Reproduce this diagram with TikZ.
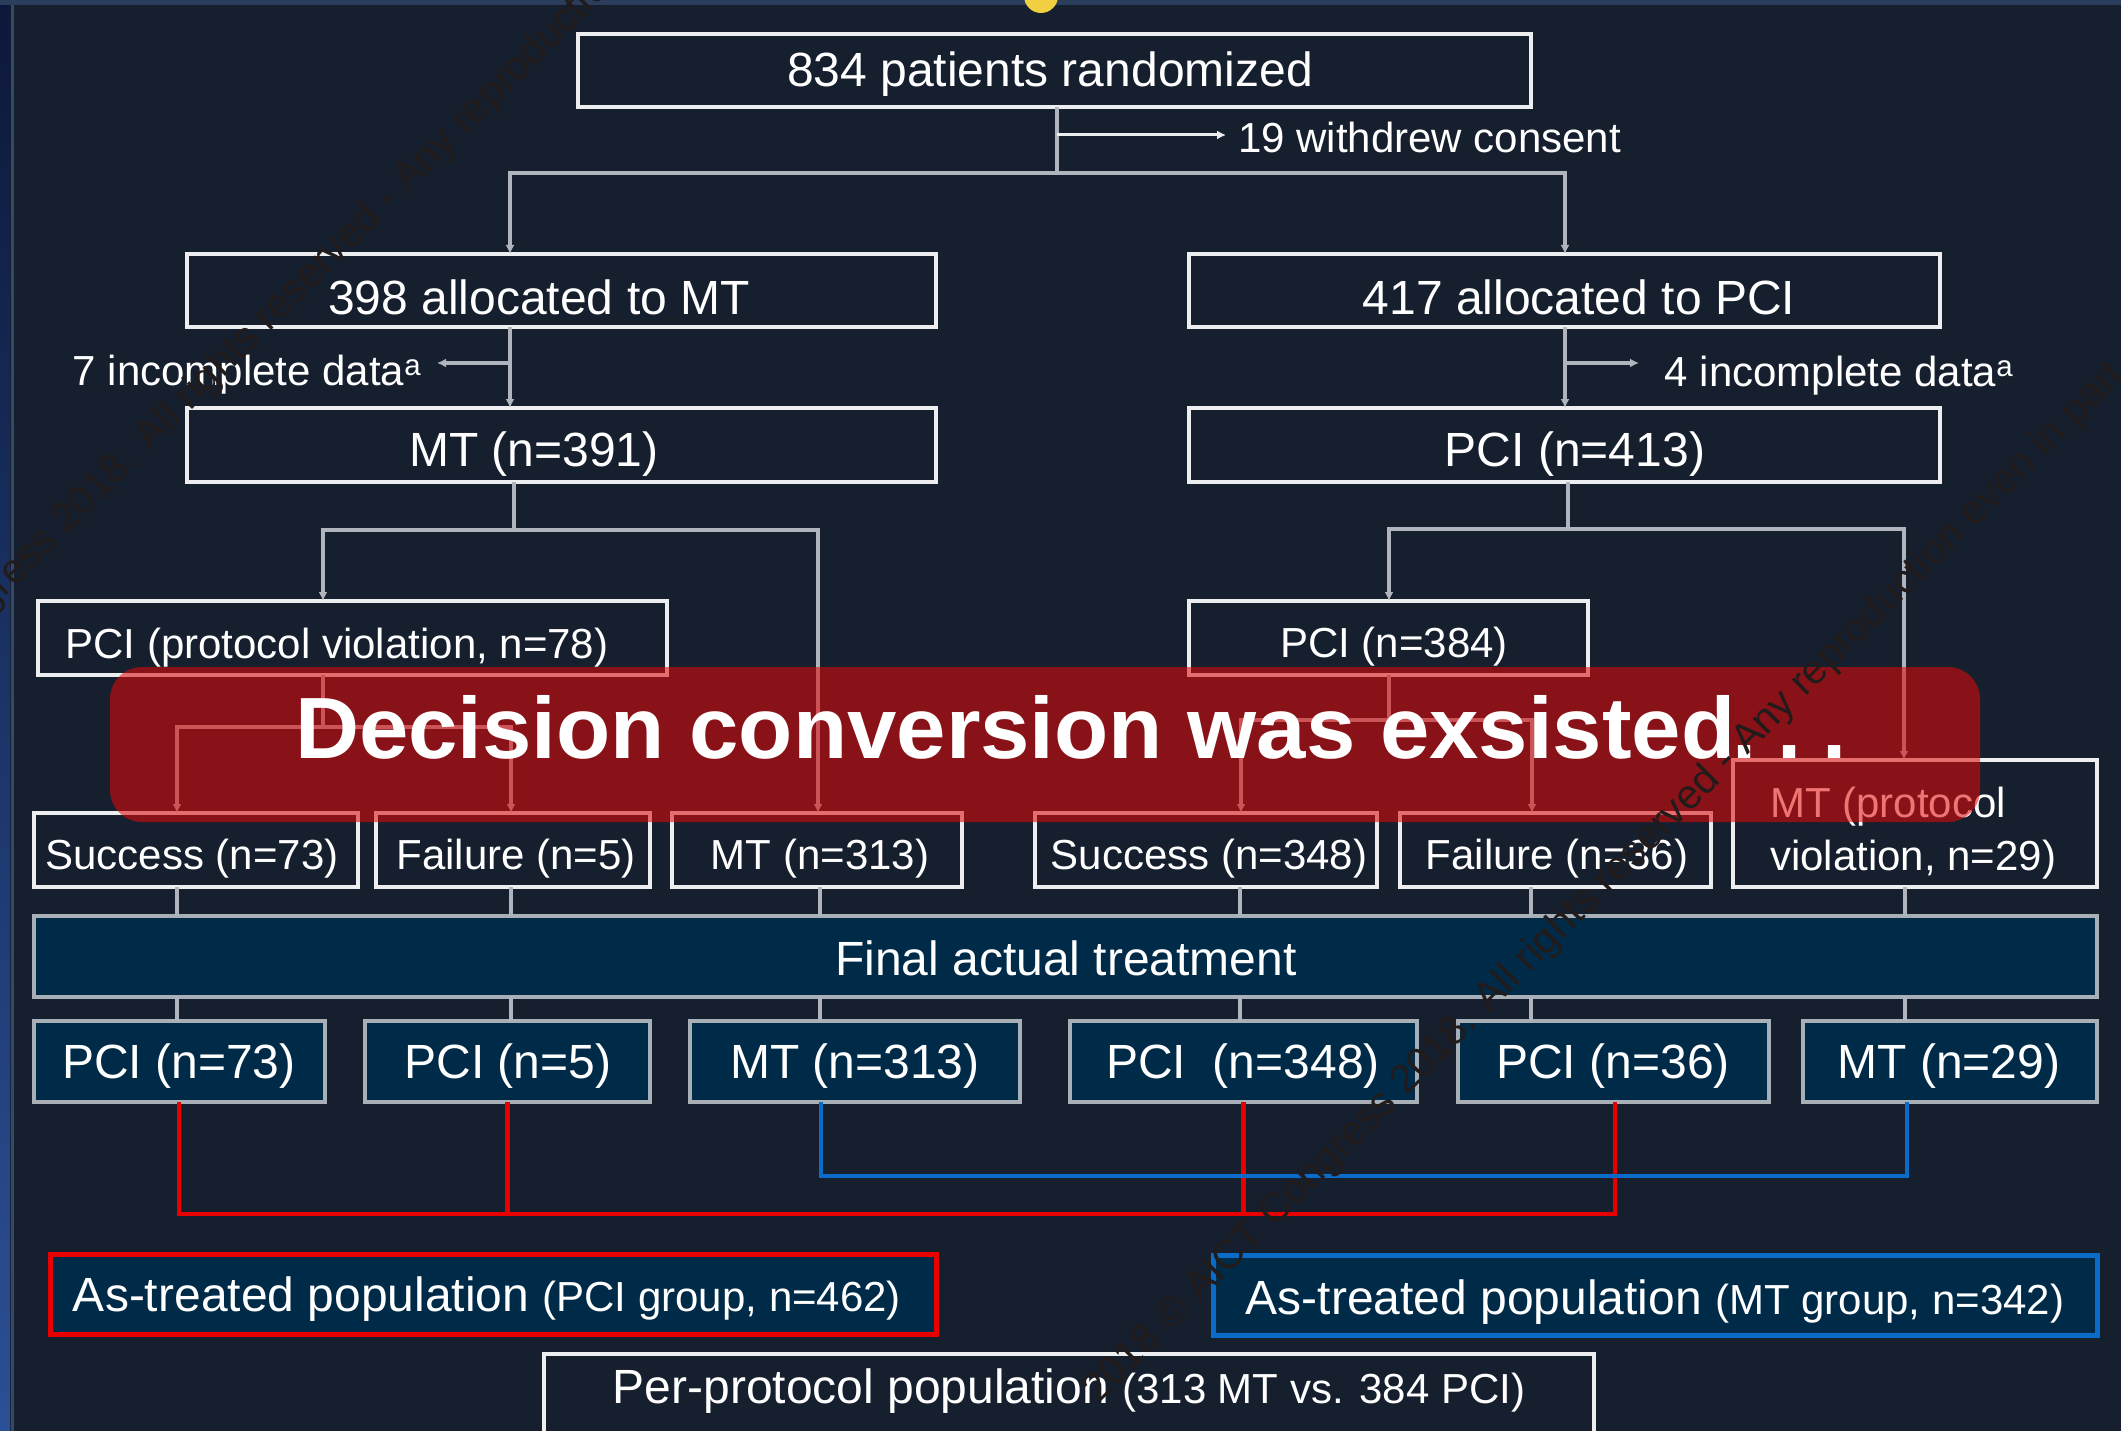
\documentclass[tikz,border=0pt]{standalone}
\usepackage{graphicx}
\usepackage{fontspec}
\setmainfont{Liberation Sans}
\usetikzlibrary{arrows.meta,calc}
\definecolor{bgc}{RGB}{22,31,45}
\definecolor{fillb}{RGB}{0,43,72}
\definecolor{boxw}{RGB}{236,238,240}
\definecolor{boxg}{RGB}{168,175,183}
\definecolor{conng}{RGB}{176,181,189}
\definecolor{redl}{RGB}{232,0,0}
\definecolor{bluel}{RGB}{10,108,200}
\definecolor{ovl}{RGB}{227,9,8}
\definecolor{wmc}{RGB}{34,27,27}
\definecolor{topband}{RGB}{42,62,92}
\definecolor{stripline}{RGB}{52,72,104}
\definecolor{sunc}{RGB}{240,208,64}
\newcommand{\szL}{\fontsize{48pt}{56pt}\selectfont}
\newcommand{\szS}{\fontsize{42pt}{50pt}\selectfont}
\newcommand{\szT}{\fontsize{87pt}{96pt}\selectfont\bfseries}
\newcommand{\szW}{\fontsize{41pt}{46pt}\selectfont}
\begin{document}
\begin{tikzpicture}[x=1pt,y=-1pt,
  wbox/.style={draw=boxw, line width=4.5pt, inner sep=0pt, outer sep=0pt, rectangle},
  gbox/.style={draw=boxg, line width=4pt, fill=fillb, inner sep=0pt, outer sep=0pt, rectangle},
  conn/.style={draw=conng, line width=3.5pt},
  connw/.style={draw=boxw, line width=3pt},
  arr/.style={-{Latex[length=9pt,width=9pt]}},
  tl/.style={text=white, inner sep=0pt, anchor=base, font=\szL},
  ts/.style={text=white, inner sep=0pt, anchor=base, font=\szS},
  redln/.style={draw=redl, line width=4.5pt, line join=miter},
  blueln/.style={draw=bluel, line width=4pt, line join=miter},
  wmk/.style={text=wmc, inner sep=0pt, anchor=base west, font=\szW, rotate=45}
]
\useasboundingbox (0,0) rectangle (2121,1431);
\fill[bgc] (0,0) rectangle (2121,1431);
\shade[top color={rgb,255:red,12;green,24;blue,58}, bottom color={rgb,255:red,44;green,80;blue,150}] (0,0) rectangle (10,1431);
\draw[stripline, line width=3pt] (12.5,0) -- (12.5,1431);
\fill[topband] (0,0) rectangle (2121,5);
\begin{scope}
\clip (0,0) rectangle (2121,1431);
\fill[sunc] (1041,-4) circle (17);
\end{scope}

% ---------- boxes ----------
\node[wbox, minimum width=953pt, minimum height=73pt] (b834) at (1054.5,70.5) {};
\node[wbox, minimum width=749pt, minimum height=73pt] (b398) at (561.5,290.5) {};
\node[wbox, minimum width=751pt, minimum height=73pt] (b417) at (1564.5,290.5) {};
\node[wbox, minimum width=749pt, minimum height=74pt] (bmt391) at (561.5,445) {};
\node[wbox, minimum width=751pt, minimum height=74pt] (bpci413) at (1564.5,445) {};
\node[wbox, minimum width=629pt, minimum height=74pt] (bpv78) at (352.5,638) {};
\node[wbox, minimum width=399pt, minimum height=74pt] (bpci384) at (1388.5,638) {};
\node[wbox, minimum width=324pt, minimum height=74pt] (bs73) at (196,850) {};
\node[wbox, minimum width=274pt, minimum height=74pt] (bf5) at (513,850) {};
\node[wbox, minimum width=290pt, minimum height=74pt] (bmt313) at (817,850) {};
\node[wbox, minimum width=342pt, minimum height=74pt] (bs348) at (1206,850) {};
\node[wbox, minimum width=311pt, minimum height=74pt] (bf36) at (1555.5,850) {};
\node[wbox, minimum width=364pt, minimum height=127pt] (bmtpv) at (1915,823.5) {};
\node[gbox, minimum width=2063pt, minimum height=81pt] (bar) at (1065.5,956.5) {};
\node[gbox, minimum width=291pt, minimum height=81pt] (p73) at (179.5,1061.5) {};
\node[gbox, minimum width=285pt, minimum height=81pt] (p5) at (507.5,1061.5) {};
\node[gbox, minimum width=330pt, minimum height=81pt] (m313) at (855,1061.5) {};
\node[gbox, minimum width=347pt, minimum height=81pt] (p348) at (1243.5,1061.5) {};
\node[gbox, minimum width=311pt, minimum height=81pt] (p36) at (1613.5,1061.5) {};
\node[gbox, minimum width=294pt, minimum height=81pt] (m29) at (1950,1061.5) {};
\node[gbox, draw=redl, line width=5pt, minimum width=886pt, minimum height=80pt] (atpci) at (493,1294) {};
\node[gbox, draw=bluel, line width=5pt, minimum width=884pt, minimum height=80pt] (atmt) at (1655,1295) {};
\node[wbox, minimum width=1050pt, minimum height=116pt] (pp) at (1069,1412) {};

% ---------- connectors ----------
\coordinate (jT) at (1057,173);
\coordinate (jL) at (510,173);
\coordinate (jR) at (1565,173);
\draw[conn] (b834.south -| jT) -- (jT);
\draw[conn,arr] (jT) -| (b398.north -| jL);
\draw[conn,arr] (jT) -| (b417.north -| jR);
\coordinate (wA) at (1057,135);
\coordinate (wB) at (1226,135);
\draw[connw,arr] (wA) -- (wB);

\draw[conn,arr] (b398.south -| jL) -- (bmt391.north -| jL);
\draw[conn,arr] (b417.south -| jR) -- (bpci413.north -| jR);
\coordinate (iL) at (510,363);
\coordinate (iLe) at (437,363);
\coordinate (iR) at (1565,363);
\coordinate (iRe) at (1639,363);
\draw[conn,arr] (iL) -- (iLe);
\draw[conn,arr] (iR) -- (iRe);

\coordinate (kL) at (514,530);
\coordinate (kLa) at (323,530);
\coordinate (kLb) at (818,530);
\draw[conn] (bmt391.south -| kL) -- (kL);
\draw[conn,arr] (kL) -| (bpv78.north -| kLa);
\draw[conn,arr] (kL) -| (bmt313.north -| kLb);
\coordinate (kR) at (1568,529);
\coordinate (kRa) at (1389,529);
\coordinate (kRb) at (1904,529);
\draw[conn] (bpci413.south -| kR) -- (kR);
\draw[conn,arr] (kR) -| (bpci384.north -| kRa);
\draw[conn,arr] (kR) -| (bmtpv.north -| kRb);

\coordinate (mL) at (323,727);
\coordinate (mLa) at (177,727);
\coordinate (mLb) at (511,727);
\draw[conn] (bpv78.south -| mL) -- (mL);
\draw[conn,arr] (mL) -| (bs73.north -| mLa);
\draw[conn,arr] (mL) -| (bf5.north -| mLb);
\coordinate (mR) at (1389,720);
\coordinate (mRa) at (1241,720);
\coordinate (mRb) at (1532,720);
\draw[conn] (bpci384.south -| mR) -- (mR);
\draw[conn,arr] (mR) -| (bs348.north -| mRa);
\draw[conn,arr] (mR) -| (bf36.north -| mRb);

\coordinate (sx1) at (177,0);
\coordinate (sx2) at (511,0);
\coordinate (sx3) at (820,0);
\coordinate (sx4) at (1240,0);
\coordinate (sx5) at (1531,0);
\coordinate (sx6) at (1905,0);
\draw[conn] (bs73.south -| sx1) -- (bar.north -| sx1);
\draw[conn] (bf5.south -| sx2) -- (bar.north -| sx2);
\draw[conn] (bmt313.south -| sx3) -- (bar.north -| sx3);
\draw[conn] (bs348.south -| sx4) -- (bar.north -| sx4);
\draw[conn] (bf36.south -| sx5) -- (bar.north -| sx5);
\draw[conn] (bmtpv.south -| sx6) -- (bar.north -| sx6);
\draw[conn] (bar.south -| sx1) -- (p73.north -| sx1);
\draw[conn] (bar.south -| sx2) -- (p5.north -| sx2);
\draw[conn] (bar.south -| sx3) -- (m313.north -| sx3);
\draw[conn] (bar.south -| sx4) -- (p348.north -| sx4);
\draw[conn] (bar.south -| sx5) -- (p36.north -| sx5);
\draw[conn] (bar.south -| sx6) -- (m29.north -| sx6);

\coordinate (rx1) at (179,1214);
\coordinate (rx2) at (1615,1214);
\draw[redln] (p73.south -| rx1) -- (rx1) -- (rx2) -- (p36.south -| rx2);
\draw[redln] (p5.south) -- (p5.south |- rx1);
\draw[redln] (p348.south) -- (p348.south |- rx1);
\coordinate (bx1) at (821,1176);
\coordinate (bx2) at (1907,1176);
\draw[blueln] (m313.south -| bx1) -- (bx1) -- (bx2) -- (m29.south -| bx2);

% ---------- texts ----------
\node[tl] (t834) at (1050,87) {834 patients randomized};
\node[ts, anchor=base west] (t19) at (1238,153) {19 withdrew consent};
\node[tl] (t398) at (539,315) {398 allocated to MT};
\node[tl] (t417) at (1579,315) {417 allocated to PCI};
\node[ts] (t7) at (247,385) {7 incomplete data\textsuperscript{a}};
\node[ts] (t4) at (1839,386) {4 incomplete data\textsuperscript{a}};
\node[tl] (tmt391) at (534,466) {MT (n=391)};
\node[tl] (tpci413) at (1575,466) {PCI (n=413)};
\node[ts] (tpv78) at (337,658) {PCI (protocol violation, n=78)};
\node[ts] (tpci384) at (1394,657) {PCI (n=384)};
\node[ts] (ts73) at (192,869) {Success (n=73)};
\node[ts] (tf5) at (516,869) {Failure (n=5)};
\node[ts] (tmt313) at (820,869) {MT (n=313)};
\node[ts] (ts348) at (1209,869) {Success (n=348)};
\node[ts] (tf36) at (1557,869) {Failure (n=36)};
\node[ts, anchor=base west] (tmtpv1) at (1770,817) {MT (protocol};
\node[ts, anchor=base west] (tmtpv2) at (1770,870) {violation, n=29)};
\node[tl] (tbar) at (1066,975) {Final actual treatment};
\node[tl] (tp73) at (179,1078) {PCI (n=73)};
\node[tl] (tp5) at (508,1078) {PCI (n=5)};
\node[tl] (tm313) at (855,1078) {MT (n=313)};
\node[tl] (tp348) at (1243,1078) {PCI\ \ (n=348)};
\node[tl] (tp36) at (1613,1078) {PCI (n=36)};
\node[tl] (tm29) at (1949,1078) {MT (n=29)};
\node[tl] (tatpci) at (487,1311) {As-treated population {\szS(PCI group, n=462)}};
\node[tl] (tatmt) at (1655,1314) {As-treated population {\szS(MT group, n=342)}};
\node[tl] (tpp) at (1069,1403) {Per-protocol population {\szS(313 MT vs. 384 PCI)}};

% ---------- overlay ----------
\fill[ovl, fill opacity=0.56, rounded corners=32pt] (110,667) rectangle (1980,822);
\node[text=white, inner sep=0pt, anchor=base west, font=\szT] (title) at (295,758) {\scalebox{1.02}[1]{Decision conversion was exsisted}\kern-3pt.\hspace{21pt}.\hspace{21pt}.};

% ---------- watermark ----------
\begin{scope}
\clip (0,0) rectangle (2121,1431);
\node[wmk] (wm1) at (-241,843) {2018 © AICT Congress 2018. All rights reserved - Any reproduction even in part};
\node[wmk] (wm2) at (1098,1405) {2018 © AICT Congress 2018. All rights reserved - Any reproduction even in part};
\end{scope}
\end{tikzpicture}
\end{document}
